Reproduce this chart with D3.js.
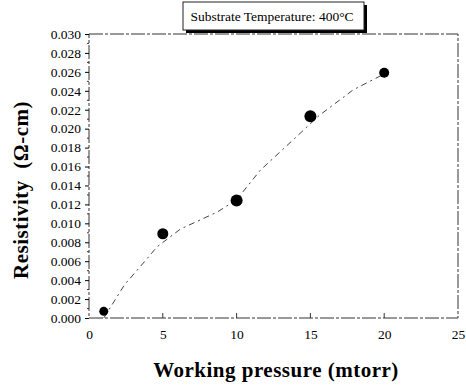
<!DOCTYPE html>
<html>
<head>
<meta charset="utf-8">
<script src="https://cdn.jsdelivr.net/npm/d3@7"></script>
<style>
  body { margin: 0; background: #fff; }
  svg text { font-family: "Liberation Serif", "DejaVu Serif", serif !important; fill: #000; }
</style>
</head>
<body>
<script>
// measured points
var pressure = [1, 5, 10, 15, 20];
var resistivity = [0.0007, 0.0089, 0.0124, 0.0213, 0.0259];
// dashed guide line
var fitX = [1, 2.4, 3.9, 4.6, 6.2, 8.7, 10, 11.6, 14.3, 15.6, 17.9, 19.9];
var fitY = [0.0, 0.0035, 0.0062, 0.0075, 0.0094, 0.0112, 0.0125, 0.0156, 0.0195, 0.0214, 0.0241, 0.0257];
var xTicks = [0, 5, 10, 15, 20, 25];
var yTicks = d3.range(0, 0.0301, 0.002);

var svg = d3.select("body").append("svg")
    .attr("width", 466)
    .attr("height", 386);

var x = d3.scaleLinear().domain([0, 25]).range([89, 458]);
var y = d3.scaleLinear().domain([0, 0.030]).range([318, 34]);

// frame
svg.append("rect")
    .attr("x", 89).attr("y", 34)
    .attr("width", 369).attr("height", 284)
    .attr("fill", "none")
    .attr("stroke", "#333")
    .attr("stroke-width", 1)
    .attr("stroke-dasharray", "14,2,3,2");

var yAxis = d3.axisLeft(y).tickValues(yTicks).tickSize(4).tickFormat(d3.format(".3f"));
var xAxis = d3.axisBottom(x).tickValues(xTicks).tickSize(0).tickPadding(11).tickFormat(d3.format("d"));

var gy = svg.append("g").attr("transform", "translate(89,0)").call(yAxis)
    .attr("font-family", null);
gy.select(".domain").remove();
gy.selectAll("text").style("font-size", "13.5px").attr("x", -8);

var gx = svg.append("g").attr("transform", "translate(0,318)").call(xAxis)
    .attr("font-family", null);
gx.select(".domain").remove();
gx.selectAll("text").style("font-size", "13.5px");

// inward x ticks
svg.selectAll(".xin")
    .data(xTicks.slice(1, 5))
    .enter().append("line")
    .attr("x1", function(d) { return x(d); })
    .attr("x2", function(d) { return x(d); })
    .attr("y1", 318).attr("y2", 313)
    .attr("stroke", "#333");

// minor y ticks
svg.selectAll(".ymin")
    .data(d3.range(0.001, 0.030, 0.002))
    .enter().append("line")
    .attr("x1", 87).attr("x2", 89)
    .attr("y1", function(d) { return y(d); })
    .attr("y2", function(d) { return y(d); })
    .attr("stroke", "#333");

var line = d3.line()
    .x(function(d) { return x(d[0]); })
    .y(function(d) { return y(d[1]); });

svg.append("path")
    .datum(d3.zip(fitX, fitY))
    .attr("d", line)
    .attr("fill", "none")
    .attr("stroke", "#444")
    .attr("stroke-width", 1)
    .attr("stroke-dasharray", "6,4,2,4");

var pr = [4.5, 5.5, 6, 6, 5];
svg.selectAll("circle")
    .data(d3.zip(pressure, resistivity))
    .enter().append("circle")
    .attr("cx", function(d) { return x(d[0]); })
    .attr("cy", function(d) { return y(d[1]); })
    .attr("r", function(d, i) { return pr[i]; })
    .attr("fill", "#000");

// title box
var tb = svg.append("g");
tb.append("rect")
    .attr("x", 186).attr("y", 5)
    .attr("width", 181).attr("height", 28)
    .attr("fill", "#000");
tb.append("rect")
    .attr("x", 183).attr("y", 2)
    .attr("width", 181).attr("height", 28)
    .attr("fill", "#fff")
    .attr("stroke", "#222")
    .attr("stroke-width", 1);
tb.append("text")
    .attr("x", 272).attr("y", 21)
    .attr("text-anchor", "middle")
    .style("font-size", "13.5px")
    .text("Substrate Temperature: 400°C");

svg.append("text")
    .attr("transform", "translate(28,190) rotate(-90)")
    .attr("text-anchor", "middle")
    .style("font-size", "21px")
    .style("font-weight", "bold")
    .style("letter-spacing", "0.5px")
    .attr("xml:space", "preserve")
    .text("Resistivity  (Ω-cm)");

svg.append("text")
    .attr("x", 276).attr("y", 377)
    .attr("text-anchor", "middle")
    .style("font-size", "21px")
    .style("font-weight", "bold")
    .style("letter-spacing", "0.5px")
    .text("Working pressure (mtorr)");
</script>
</body>
</html>
